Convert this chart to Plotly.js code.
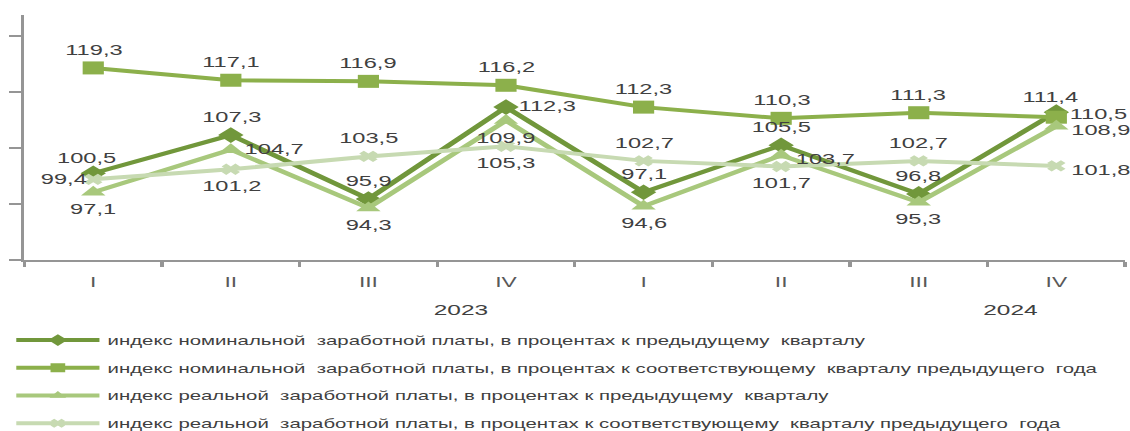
<!DOCTYPE html>
<html>
<head>
<meta charset="utf-8">
<script src="https://cdn.plot.ly/plotly-3.0.1.min.js"></script>
<style>
  html, body { margin: 0; padding: 0; overflow: hidden; background: #ffffff; }
  #chart { width: 693px; height: 431px; transform: scaleX(1.6306); transform-origin: 0 0; }
</style>
</head>
<body>
<div id="chart"></div>
<script>
// ---- data ----
const years = ['2023', '2024'];
const quarters = ['I', 'II', 'III', 'IV', 'I', 'II', 'III', 'IV'];
const nominalPrevQuarter = [100.5, 107.3, 95.9, 112.3, 97.1, 105.5, 96.8, 111.4];
const nominalPrevYear = [119.3, 117.1, 116.9, 116.2, 112.3, 110.3, 111.3, 110.5];
const realPrevQuarter = [97.1, 104.7, 94.3, 109.9, 94.6, 103.7, 95.3, 108.9];
const realPrevYear = [99.4, 101.2, 103.5, 105.3, 102.7, 101.7, 102.7, 101.8];
const seriesNames = [
  'индекс номинальной\u00a0 заработной платы, в процентах к предыдущему\u00a0 кварталу',
  'индекс номинальной\u00a0 заработной платы, в процентах к соответствующему\u00a0 кварталу предыдущего\u00a0 года',
  'индекс реальной\u00a0 заработной платы, в процентах к предыдущему\u00a0 кварталу',
  'индекс реальной\u00a0 заработной платы, в процентах к соответствующему\u00a0 кварталу предыдущего\u00a0 года'
];

// ---- label placement (style only) ----
const labelPlace = {
  T:  { xanchor: 'center', dx: 0,  dy: 18 },
  TL: { xanchor: 'center', dx: -4, dy: 15 },
  B:  { xanchor: 'center', dx: 0,  dy: -17 },
  R:  { xanchor: 'left',   dx: 6,  dy: 1 },
  RT: { xanchor: 'left',   dx: 6,  dy: 3 },
  RB: { xanchor: 'left',   dx: 7,  dy: -4 },
  L:  { xanchor: 'right',  dx: -2, dy: 0 }
};
const pos1 = ['TL', 'T', 'T', 'R', 'T', 'T', 'T', 'TL'];
const pos2 = ['T', 'T', 'T', 'T', 'T', 'T', 'T', 'RT'];
const pos3 = ['B', 'R', 'B', 'B', 'B', 'RB', 'B', 'RB'];
const pos4 = ['L', 'B', 'T', 'B', 'T', 'B', 'T', 'RB'];

const xIdx = quarters.map((q, i) => i);
const fmt = v => v.toFixed(1).replace('.', ',');
const FONT = 'Liberation Sans, Arial, sans-serif';
const TXT = '#404040';

const styles = [
  { vals: nominalPrevQuarter, color: '#71973b', symbol: 'diamond', size: 12, lsize: 9, pos: pos1 },
  { vals: nominalPrevYear, color: '#8cb04b', symbol: 'square', size: 13, lsize: 9, pos: pos2 },
  { vals: realPrevQuarter, color: '#a8c87c', symbol: 'triangle-up', size: 13, lsize: 9, pos: pos3 },
  { vals: realPrevYear, color: '#c7dab2', symbol: 'x', size: 10, lsize: 8, pos: pos4 }
];

const traces = [];
const annotations = [];
styles.forEach((s, k) => {
  traces.push({
    type: 'scatter', mode: 'lines+markers',
    x: xIdx, y: s.vals, name: seriesNames[k], showlegend: false,
    line: { color: s.color, width: 4 },
    marker: { color: s.color, symbol: s.symbol, size: s.size, line: { width: 0 } },
    cliponaxis: false, hoverinfo: 'x+y'
  });
  s.vals.forEach((v, i) => {
    const p = labelPlace[s.pos[i]];
    annotations.push({
      x: xIdx[i], y: v, xref: 'x', yref: 'y', text: fmt(v), showarrow: false,
      xanchor: p.xanchor, yanchor: 'middle', xshift: p.dx, yshift: p.dy,
      font: { family: FONT, size: 14.5, color: TXT }
    });
  });
});
// legend entries (small legend symbols)
styles.forEach((s, k) => {
  traces.push({
    type: 'scatter', mode: 'lines+markers', x: [null], y: [null],
    name: seriesNames[k], legendgroup: 'g' + k, showlegend: true,
    line: { color: s.color, width: 4 },
    marker: { color: s.color, symbol: s.symbol, size: s.lsize, line: { width: 0 } },
    hoverinfo: 'skip'
  });
});

const boundaries = [];
for (let i = 0; i <= quarters.length; i++) boundaries.push(i - 0.5);

annotations.push(
  { text: years[0], xref: 'paper', yref: 'paper', x: 0.397, y: -0.2, xanchor: 'center', yanchor: 'middle', showarrow: false, font: { family: FONT, size: 15, color: TXT } },
  { text: years[1], xref: 'paper', yref: 'paper', x: 0.895, y: -0.204, xanchor: 'center', yanchor: 'middle', showarrow: false, font: { family: FONT, size: 15, color: TXT } }
);

const layout = {
  width: 693, height: 431,
  margin: { l: 15.3, r: 3.1, t: 15, b: 171, autoexpand: false },
  paper_bgcolor: '#ffffff', plot_bgcolor: '#ffffff',
  font: { family: FONT, color: TXT },
  showlegend: true,
  legend: {
    xref: 'container', yref: 'container', x: 0.0072, y: 0.245,
    xanchor: 'left', yanchor: 'top',
    font: { family: FONT, size: 12.5, color: TXT },
    itemwidth: 51, tracegroupgap: 8.5, traceorder: 'grouped',
    bgcolor: 'rgba(0,0,0,0)'
  },
  xaxis: {
    type: 'linear', range: [-0.5, quarters.length - 0.5],
    tickmode: 'array', tickvals: xIdx, ticktext: quarters,
    ticks: '', showgrid: false, zeroline: false,
    showline: true, linecolor: '#959595', linewidth: 2,
    tickfont: { family: FONT, size: 14, color: '#595959' },
    ticklabelstandoff: 8,
    minor: { tickmode: 'array', tickvals: boundaries, ticks: 'outside', ticklen: 5, tickwidth: 2, tickcolor: '#959595', showgrid: false },
    fixedrange: true
  },
  yaxis: {
    range: [85, 128.75],
    tickmode: 'array', tickvals: [85, 95, 105, 115, 125],
    showticklabels: false, ticks: 'outside', ticklen: 7.4, tickwidth: 2, tickcolor: '#959595',
    showgrid: false, zeroline: false,
    showline: true, linecolor: '#959595', linewidth: 2,
    fixedrange: true
  },
  annotations: annotations
};

Plotly.newPlot('chart', traces, layout, { displayModeBar: false, staticPlot: true });
</script>
</body>
</html>
